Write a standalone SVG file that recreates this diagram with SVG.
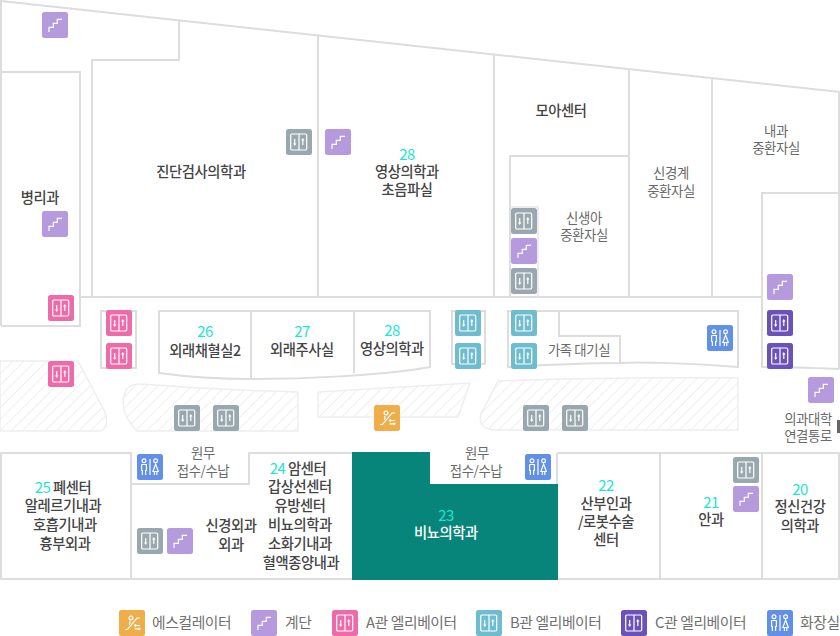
<svg xmlns="http://www.w3.org/2000/svg" width="840" height="636" viewBox="0 0 840 636">
<style>
text{font-family:"Noto Sans CJK KR","Noto Sans",sans-serif;font-size:14.3px;font-weight:500;text-anchor:middle;fill:#444;letter-spacing:-.4px}
.g{fill:#6a6a6a;font-size:13.4px;font-weight:400}
.n{fill:#1ce6cf;font-size:15px;font-weight:400;letter-spacing:-.6px}
.l{text-anchor:start;fill:#707070;font-size:14.8px;font-weight:400}
.wall{fill:none;stroke:#ddd;stroke-width:2}
.thin{fill:none;stroke:#e6e6e6;stroke-width:1.5}
.hatch{fill:url(#h);stroke:#eeeeee;stroke-width:1.5}
.ico{fill:none;stroke:#fff;stroke-width:1.2}
.fw{fill:#fff}
</style>
<defs>
<pattern id="h" width="8" height="8" patternUnits="userSpaceOnUse" patternTransform="rotate(45)"><rect width="8" height="8" fill="#fff"/><line x1="0" y1="0" x2="0" y2="8" stroke="#e2e2e2" stroke-width="1.1"/></pattern>
<symbol id="stair" width="26" height="26" viewBox="0 0 26 26"><rect width="26" height="26" rx="2.5" fill="#b59ade"/><path class="ico" d="M7 20V15.3H11.3V11.3H15.3V7.3H20"/></symbol>
<g id="ev"><rect x="4.7" y="5" width="16" height="16" rx="1.2" class="ico"/><path class="ico" d="M13 5V21M8.7 10V15.5M16.8 10.5V16"/><path class="fw" d="M7 14.5H10.4L8.7 17ZM15.1 11.5H18.5L16.8 9Z"/></g>
<symbol id="evg" width="26" height="26" viewBox="0 0 26 26"><rect width="26" height="26" rx="2.5" fill="#98a8ae"/><use href="#ev"/></symbol>
<symbol id="eva" width="26" height="26" viewBox="0 0 26 26"><rect width="26" height="26" rx="2.5" fill="#ef6aa8"/><use href="#ev"/></symbol>
<symbol id="evb" width="26" height="26" viewBox="0 0 26 26"><rect width="26" height="26" rx="2.5" fill="#6dbccf"/><use href="#ev"/></symbol>
<symbol id="evc" width="26" height="26" viewBox="0 0 26 26"><rect width="26" height="26" rx="2.5" fill="#6a52b8"/><use href="#ev"/></symbol>
<symbol id="wc" width="26" height="26" viewBox="0 0 26 26"><rect width="26" height="26" rx="2.5" fill="#6190e8"/><g class="ico"><circle cx="7" cy="6.8" r="1.9"/><path d="M4.6 10.5H9.4V16.5H8.6V21M4.6 10.5V16.5H5.4V21M13 5V21"/><circle cx="18.6" cy="6.8" r="1.9"/><path d="M18.6 10L21.3 17.5H15.9ZM17.4 17.5V21M19.8 17.5V21"/></g></symbol>
<symbol id="esc" width="26" height="26" viewBox="0 0 26 26"><rect width="26" height="26" rx="2.5" fill="#f0ae4a"/><g class="ico"><circle cx="12" cy="8" r="1.9"/><path d="M6 19.5H8.5L18 8H21M11 11L10.5 15"/><path d="M15.5 15.5H21M17 14.3L15.5 15.5L17 16.7M15.5 18.8H21M19.5 17.6L21 18.8L19.5 20"/></g></symbol>
</defs>
<rect width="840" height="636" fill="#fff"/>

<g id="connectors">
<path class="wall" d="M1 326V1L840 92M1 72H80V326H1M80 297H762M92 297V60H179V20M318 36V297M494 55V297M629 69V297M712 79V297M510 297V156H629M762 297V193H839M839 92V369M762 297V367C790 367 815 368 839 369"/>
<path class="thin" d="M510 207H538V297"/>
<path class="wall" d="M159 373V311H430V367C380 376 300 379 251 379C225 379 195 378 159 373ZM251 311V379M354 311V373"/>
<path class="wall" d="M101 311H136V368H101ZM452 311H485V364H452ZM508 367V311H738V367C690 363 640 362 620 363C580 363 545 365 508 367ZM559 311V336H620V363"/>
<path class="hatch" d="M0 361H78L105 412Q110 431 97 431H0Z"/>
<path class="hatch" d="M137 431Q118 412 125 392Q128 384 140 384Q220 390 298 392V431Z"/>
<path class="hatch" d="M318 392L470 383L458 417H318Z"/>
<path class="hatch" d="M498 381Q610 377 738 378V430H497Q477 430 481 414Z"/>
<path class="wall" d="M0 453H131V579M1 453V579H839V453M131 484H249V453H352M557 453V484M557 453H840M660 453V579M762 453V579"/>
<rect x="837" y="420" width="3" height="13" fill="#666"/>
</g>

<g id="room-23"><path fill="#08857a" d="M352 452H430V484H558V580H352Z"/>
<text x="446" y="521" class="n">23</text><text x="446" y="538" style="fill:#fff">비뇨의학과</text></g>
<g id="room-moa"><text x="561" y="116">모아센터</text></g>
<g id="room-jindan"><text x="201" y="177">진단검사의학과</text></g>
<g id="room-28a"><text x="407" y="160" class="n">28</text><text x="407" y="177">영상의학과</text><text x="407" y="195">초음파실</text></g>
<g id="room-byeongni"><text x="40" y="203">병리과</text></g>
<g id="room-nicu"><text x="584" y="223" class="g">신생아</text><text x="584" y="240" class="g">중환자실</text></g>
<g id="room-neuro-icu"><text x="671" y="178" class="g">신경계</text><text x="671" y="196" class="g">중환자실</text></g>
<g id="room-med-icu"><text x="776" y="136" class="g">내과</text><text x="776" y="153" class="g">중환자실</text></g>
<g id="room-26"><text x="205" y="337" class="n">26</text><text x="205" y="356">외래채혈실2</text></g>
<g id="room-27"><text x="302" y="337" class="n">27</text><text x="302" y="355">외래주사실</text></g>
<g id="room-28b"><text x="392" y="336" class="n">28</text><text x="392" y="354">영상의학과</text></g>
<g id="room-family"><text x="579" y="355" class="g">가족 대기실</text></g>
<g id="room-link"><text x="808" y="424" class="g">의과대학</text><text x="808" y="441" class="g">연결통로</text></g>
<g id="room-desk-a"><text x="203" y="458" class="g">원무</text><text x="203" y="476" class="g">접수/수납</text></g>
<g id="room-desk-b"><text x="477" y="458" class="g">원무</text><text x="476" y="476" class="g">접수/수납</text></g>
<g id="room-22"><text x="606" y="491" class="n">22</text><text x="606" y="509">산부인과</text><text x="606" y="527">/로봇수술</text><text x="606" y="545">센터</text></g>
<g id="room-21"><text x="711" y="508" class="n">21</text><text x="711" y="525">안과</text></g>
<g id="room-20"><text x="800" y="495" class="n">20</text><text x="800" y="512">정신건강</text><text x="800" y="531">의학과</text></g>
<g id="room-25"><text x="63" y="493"><tspan class="n">25</tspan> 폐센터</text><text x="63" y="511">알레르기내과</text><text x="65" y="530">호흡기내과</text><text x="65" y="549">흉부외과</text></g>
<g id="room-24"><text x="298" y="474"><tspan class="n">24</tspan> 암센터</text><text x="300" y="492">갑상선센터</text><text x="300" y="511">유방센터</text><text x="300" y="530">비뇨의학과</text><text x="300" y="549">소화기내과</text><text x="301" y="568">혈액종양내과</text></g>
<g id="room-surgery"><text x="231" y="531">신경외과</text><text x="231" y="550">외과</text></g>

<g id="icons">
<use href="#stair" x="42" y="12"/><use href="#stair" x="325" y="129"/><use href="#stair" x="42" y="211"/><use href="#stair" x="511" y="238"/><use href="#stair" x="767" y="274"/><use href="#stair" x="808" y="377"/><use href="#stair" x="733" y="486"/><use href="#stair" x="167" y="528"/>
<use href="#evg" x="286" y="129"/><use href="#evg" x="511" y="208"/><use href="#evg" x="511" y="268"/><use href="#evg" x="174" y="405"/><use href="#evg" x="213" y="405"/><use href="#evg" x="523" y="405"/><use href="#evg" x="562" y="405"/><use href="#evg" x="733" y="457"/><use href="#evg" x="137" y="528"/>
<use href="#eva" x="48" y="295"/><use href="#eva" x="106" y="310"/><use href="#eva" x="106" y="343"/><use href="#eva" x="48" y="361"/>
<use href="#evb" x="455" y="310"/><use href="#evb" x="455" y="343"/><use href="#evb" x="511" y="310"/><use href="#evb" x="511" y="343"/>
<use href="#evc" x="767" y="310"/><use href="#evc" x="767" y="343"/>
<use href="#wc" x="707" y="325"/><use href="#wc" x="137" y="454"/><use href="#wc" x="525" y="454"/>
<use href="#esc" x="374" y="405"/>
</g>

<g id="legend">
<use href="#esc" x="119" y="610"/><text x="152" y="628" class="l">에스컬레이터</text>
<use href="#stair" x="251" y="610"/><text x="285" y="628" class="l">계단</text>
<use href="#eva" x="332" y="610"/><text x="366" y="628" class="l">A관 엘리베이터</text>
<use href="#evb" x="476" y="610"/><text x="510" y="628" class="l">B관 엘리베이터</text>
<use href="#evc" x="621" y="610"/><text x="655" y="628" class="l">C관 엘리베이터</text>
<use href="#wc" x="767" y="610"/><text x="800" y="628" class="l">화장실</text>
</g>
</svg>
